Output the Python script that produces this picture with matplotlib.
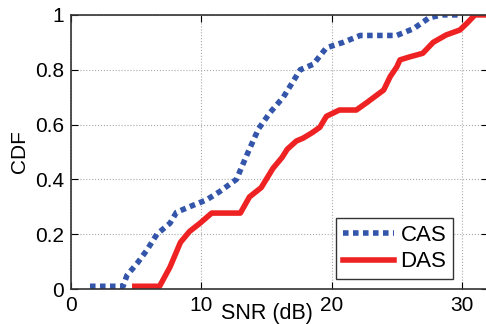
import matplotlib.pyplot as plt

plt.rcParams['font.family'] = ['Liberation Sans', 'DejaVu Sans']

# CAS curve
cas_x = [1.46, 4.0, 4.3, 5.1, 5.8, 6.6, 7.6, 8.1, 9.4, 10.4, 11.4, 12.7, 13.6, 14.4,
         15.3, 16.3, 17.6, 18.6, 19.6, 20.9, 22.2, 25.0, 26.3, 27.5, 28.5, 30.0]
cas_y = [0.01, 0.01, 0.05, 0.095, 0.14, 0.2, 0.24, 0.28, 0.306, 0.325, 0.355, 0.4, 0.5, 0.585,
         0.645, 0.7, 0.8, 0.82, 0.88, 0.9, 0.925, 0.925, 0.95, 0.99, 1.0, 1.0]

# DAS curve
das_x = [4.9, 6.8, 7.6, 8.4, 9.1, 9.9, 10.8, 13.0, 13.7, 14.6, 15.5, 16.2, 16.6, 17.3, 17.8,
         18.5, 19.1, 19.6, 20.6, 21.9, 22.7, 24.0, 24.5, 25.0, 25.25, 26.0, 27.0, 27.8,
         28.8, 29.85, 30.4, 31.0, 32.0]
das_y = [0.01, 0.01, 0.08, 0.17, 0.21, 0.24, 0.277, 0.277, 0.336, 0.37, 0.44, 0.48, 0.51, 0.54, 0.55,
         0.57, 0.59, 0.63, 0.653, 0.653, 0.68, 0.726, 0.775, 0.81, 0.836, 0.847, 0.86, 0.9,
         0.927, 0.945, 0.97, 1.0, 1.0]

fig = plt.figure(figsize=(4.86, 3.24), dpi=100)
ax = fig.add_axes([0.146, 0.108, 0.858, 0.846])

ax.plot(cas_x, cas_y, color='#3355aa', linewidth=4, linestyle=(0, (1, 0.8)), label='CAS')
ax.plot(das_x, das_y, color='#ee2222', linewidth=4, label='DAS')

ax.set_xlim(0, 32)
ax.set_ylim(0, 1)
ax.set_xticks([0, 10, 20, 30])
ax.set_yticks([0, 0.2, 0.4, 0.6, 0.8, 1])
ax.set_yticklabels(['0', '0.2', '0.4', '0.6', '0.8', '1'])
ax.tick_params(direction='in', length=5, labelsize=15, pad=5, top=True, right=True)
ax.grid(True, linestyle=':', color='#aaaaaa', linewidth=0.8)
for s in ax.spines.values():
    s.set_linewidth(1.2)
    s.set_color('#333333')

ax.set_ylabel('CDF', fontsize=15, labelpad=4)
ax.text(0.47, -0.09, 'SNR (dB)', transform=ax.transAxes, ha='center', va='center', fontsize=15.5)

leg = ax.legend(loc='lower right', bbox_to_anchor=(0.916, 0.036), fontsize=16,
                fancybox=False, framealpha=1, edgecolor='#333333', borderaxespad=0,
                handlelength=2.3, borderpad=0.3, labelspacing=0.25, handletextpad=0.3)
leg.get_frame().set_linewidth(1.0)

fig.savefig('out.png', dpi=100)
